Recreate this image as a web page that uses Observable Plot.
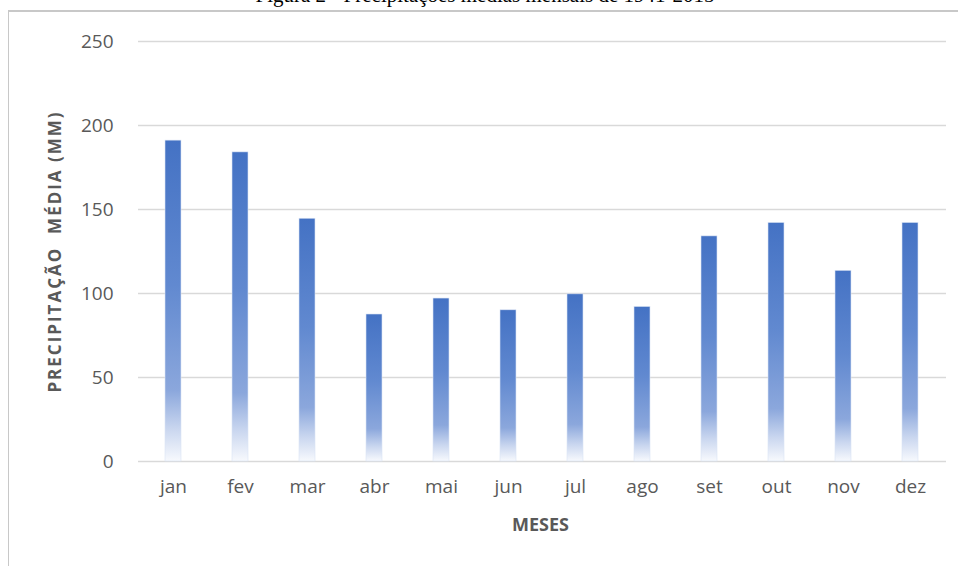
<!DOCTYPE html>
<html>
<head>
<meta charset="utf-8">
<script src="https://cdn.jsdelivr.net/npm/d3@7"></script>
<script src="https://cdn.jsdelivr.net/npm/@observablehq/plot@0.6"></script>
<style>
  html, body { margin: 0; padding: 0; background: #fff; }
  #wrap { position: relative; width: 958px; height: 566px; overflow: hidden; }
  #title { position: absolute; top: -17px; left: 0; width: 970px; text-align: center;
           font-family: "Liberation Serif", "Times New Roman", serif; font-size: 21px; color: #000; }
  #frame { position: absolute; left: 8px; top: 10px; width: 960px; height: 570px;
           border-left: 1.5px solid #c8c8c8; border-top: 2px solid #c8c8c8; }
  #chart { position: absolute; left: 0; top: 0; }
  .ytitle text { letter-spacing: 2px; }
</style>
</head>
<body>
<div id="wrap">
  <div id="title">Figura 2 - Precipitações médias mensais de 1941-2015</div>
  <div id="frame"></div>
  <div id="chart"></div>
</div>
<script>
const months = ["jan","fev","mar","abr","mai","jun","jul","ago","set","out","nov","dez"];
const precipitation = [191, 184, 144.5, 87.5, 97, 90, 99.5, 92, 134, 142, 113.5, 142];
const yTicks = [0, 50, 100, 150, 200, 250];
const xTitle = "MESES";
const yTitle = "PRECIPITAÇÃO  MÉDIA (MM)";

const data = months.map((m, i) => ({month: m, value: precipitation[i]}));
const font = "'Open Sans', 'Noto Sans', sans-serif";

const plot = Plot.plot({
  width: 958,
  height: 566,
  marginLeft: 138,
  marginRight: 12,
  marginTop: 41,
  marginBottom: 105,
  style: {fontFamily: font, fontSize: "19px", color: "#595959", background: "transparent"},
  x: {domain: months, paddingInner: 0.76, paddingOuter: 0.38, label: null},
  y: {domain: [0, 250], label: null},
  marks: [
    Plot.ruleY(yTicks, {stroke: "#d9d9d9", strokeWidth: 1.5}),
    Plot.axisY(yTicks, {tickSize: 0, tickPadding: 25, label: null, fontSize: 19, fill: "#595959"}),
    Plot.axisX({tickSize: 0, tickPadding: 18, label: null, fontSize: 19, fill: "#595959"}),
    Plot.barY(data, {x: "month", y: "value", fill: "url(#barGrad)", stroke: "#dbe4f4", strokeWidth: 0.6}),
    Plot.text([xTitle], {frameAnchor: "bottom", dy: 69, dx: -2, text: d => d, fontWeight: "bold", fontSize: 18, fill: "#595959"}),
    Plot.text([yTitle], {frameAnchor: "left", dx: -83, rotate: -90, textAnchor: "middle", text: d => d, fontWeight: "bold", fontSize: 17, fill: "#595959", className: "ytitle"})
  ]
});

const ns = "http://www.w3.org/2000/svg";
const defs = document.createElementNS(ns, "defs");
const grad = document.createElementNS(ns, "linearGradient");
grad.setAttribute("id", "barGrad");
grad.setAttribute("x1", "0"); grad.setAttribute("y1", "0");
grad.setAttribute("x2", "0"); grad.setAttribute("y2", "1");
[["0", "#4472c4"], ["0.45", "#6189d0"], ["0.78", "#8ba7dc"], ["0.9", "#c9d6ef"], ["1", "#f7f9fd"]].forEach(([o, c]) => {
  const s = document.createElementNS(ns, "stop");
  s.setAttribute("offset", o); s.setAttribute("stop-color", c);
  grad.appendChild(s);
});
defs.appendChild(grad);
plot.insertBefore(defs, plot.firstChild);
d3.select(plot).selectAll("text").filter(function() { return this.textContent === yTitle; })
  .style("letter-spacing", "2px");
document.getElementById("chart").appendChild(plot);
</script>
</body>
</html>
